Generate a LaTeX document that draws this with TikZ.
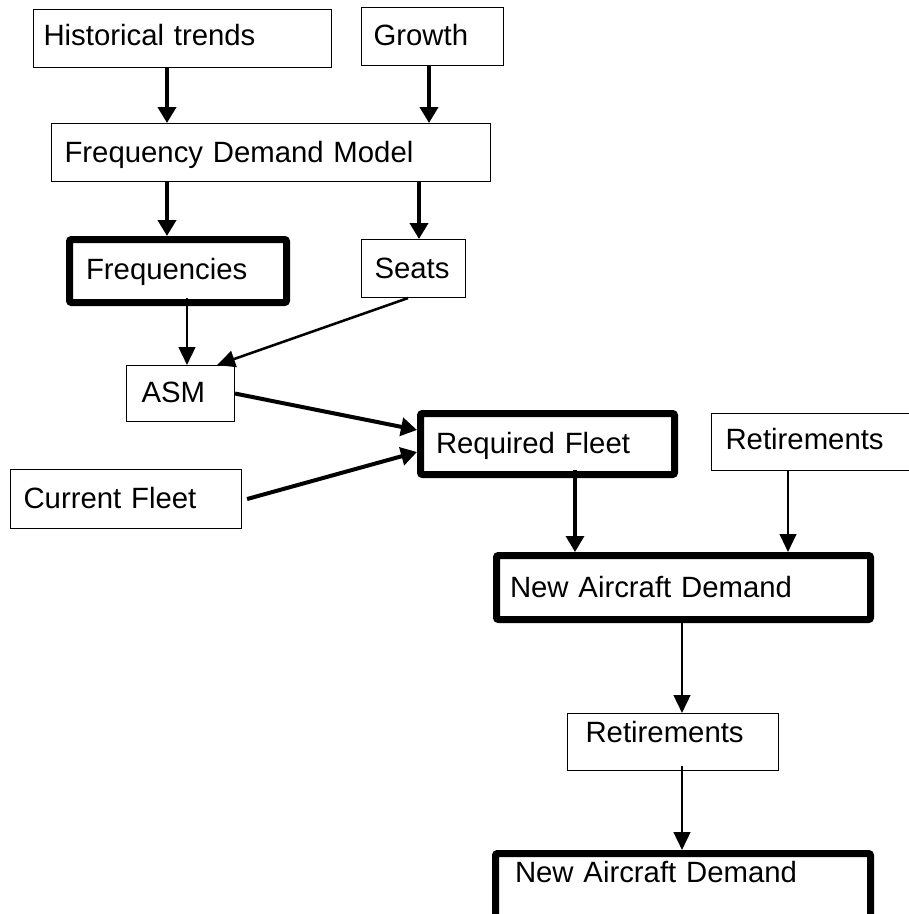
\documentclass[tikz,border=0pt]{standalone}
\usepackage{fontspec}
\setmainfont{Liberation Sans}
\usetikzlibrary{arrows.meta,calc}

\tikzset{
  box/.style={draw,line width=0.8pt,anchor=north west,inner ysep=0pt,align=left,font=\fontsize{22}{26}\selectfont},
  keybox/.style={box,line width=5.25pt,rounded corners=1.5pt},
  flow/.style={-{Triangle[length=12pt,width=13.5pt]},line width=3.4pt},
  thinflow/.style={-{Triangle[length=13.5pt,width=12.5pt]},line width=1.9pt}
}

\begin{document}
\begin{tikzpicture}[x=0.75pt,y=-0.75pt]
    \useasboundingbox (0,0) rectangle (909,914);
    \clip (0,0) rectangle (909,914);
    % boxes
    \node[box,inner xsep=7.5pt,text width=208.5pt,text height=27pt,text depth=16.5pt] (hist) at (33,9) {Historical trends};
    \node[box,inner xsep=9pt,text width=88.5pt,text height=28.5pt,text depth=15pt] (growth) at (361,7) {Growth};
    \node[box,inner xsep=9.75pt,text width=309.75pt,text height=29.25pt,text depth=14.25pt] (fdm) at (51,123) {Frequency Demand Model};
    \node[keybox,inner xsep=12.375pt,text width=138pt,text height=29.625pt,text depth=17.625pt] (freq) at (66,236) {Frequencies};
    \node[box,inner xsep=9.75pt,text width=58.5pt,text height=29.25pt,text depth=14.25pt] (seats) at (361,239) {Seats};
    \node[box,inner xsep=11.25pt,text width=58.5pt,text height=27.75pt,text depth=14.25pt] (asm) at (126,365) {ASM};
    \node[keybox,inner xsep=11.625pt,text width=167.25pt,text height=29.625pt,text depth=16.125pt] (req) at (417,410) {Required Fleet};
    \node[box,inner xsep=10.5pt,text width=143.25pt,text height=27pt,text depth=15.75pt] (ret) at (711,413) {Retirements};
    \node[box,inner xsep=9.75pt,text width=153.75pt,text height=29.25pt,text depth=15pt] (cur) at (10,469) {Current Fleet};
    \node[keybox,inner xsep=10.125pt,text width=260.25pt,text height=31.125pt,text depth=16.875pt] (nad) at (493,552) {New Aircraft Demand};
    \node[box,inner xsep=13.5pt,text width=131.25pt,text height=21.75pt,text depth=21pt] (ret2) at (567,713) {Retirements};
    \node[keybox,inner xsep=14.625pt,text width=252pt,text height=21.375pt,text depth=40.875pt] (nad2) at (492,850) {New Aircraft Demand};
    % connectors
    \draw[flow] (167,0 |- hist.south) -- (167,0 |- fdm.north);
    \draw[flow] (429,0 |- growth.south) -- (429,0 |- fdm.north);
    \draw[flow] (167,0 |- fdm.south) -- (167,0 |- freq.north);
    \draw[flow] (419,0 |- fdm.south) -- (419,0 |- seats.north);
    \draw[thinflow,shorten <=-6pt] (187,0 |- freq.south) -- (187,0 |- asm.north);
    \draw[thinflow] (408,0 |- seats.south) -- (217,0 |- asm.north);
    \draw[flow,line width=3pt] (asm.east) -- (req.west |- 0,430);
    \draw[flow,line width=3pt] ([xshift=3.75pt]cur.east) -- (req.west |- 0,452);
    \draw[flow,line width=2.4pt,shorten <=-6pt] (575,0 |- req.south) -- (575,0 |- nad.north);
    \draw[thinflow,line width=1.6pt] (788,0 |- ret.south) -- (788,0 |- nad.north);
    \draw[thinflow] (682,0 |- nad.south) -- (682,0 |- ret2.north);
    \draw[thinflow,shorten <=-4pt] (682,0 |- ret2.south) -- (682,0 |- nad2.north);
\end{tikzpicture}
\end{document}
